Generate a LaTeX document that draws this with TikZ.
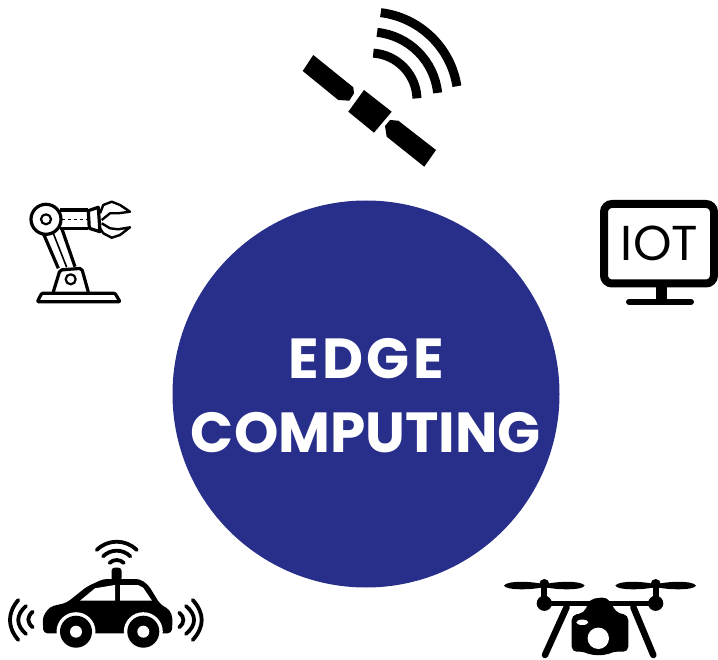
\documentclass[tikz,border=0pt]{standalone}
\usepackage{fontspec}
\setmainfont{Poppins}
\definecolor{edgeblue}{HTML}{282F8A}
\tikzset{
	iconline/.style={line width=3.2pt, draw=black, line join=round},
	wave/.style={line width=3.8pt, draw=black, line cap=round},
	beam/.style={line width=9pt, draw=black},
}
\begin{document}
\begin{tikzpicture}[x=1pt, y=-1pt]
	\useasboundingbox (0,0) rectangle (718,660);

	\node[circle, fill=edgeblue, minimum size=387pt, inner sep=0pt] (edge) at (366,394) {};
	\node[text=white, align=center, font=\fontsize{56.5}{74}\bfseries\selectfont] (edgelabel) at (366,396) {{\addfontfeature{LetterSpace=6}EDGE}\\COMPUTING};

	% satellite
	\fill (313.3,55) -- (353.3,87.3) -- (354,93.3) -- (349.3,100.7) -- (338.3,100) -- (302.7,71) -- cycle;
	\fill (364,90) -- (391.7,111.7) -- (374,132.7) -- (348.3,111.7) -- cycle;
	\fill (385,126) -- (390,120) -- (398.3,120.7) -- (436,150) -- (424.3,166.7) -- (386.7,136.7) -- cycle;
	\draw[beam] (370,100) ++(86:47pt) arc[start angle=86, end angle=2, radius=47pt];
	\draw[beam] (370,100) ++(84:68pt) arc[start angle=84, end angle=6, radius=68pt];
	\draw[beam] (370,100) ++(83:88pt) arc[start angle=83, end angle=9, radius=88pt];

	% robot arm
	\draw[iconline] (43.3,233.3) -- (58.3,268.3) (61.7,228.3) -- (75,266.7);
	\draw[line width=1.6pt] (53.3,233.3) -- (66.7,267.3);
	\draw[iconline] (60,210) -- (88.3,210) (60,228.3) -- (88.3,228.3);
	\draw[line width=1.4pt, dashed] (61.7,219.3) -- (86.7,219.3);
	\draw[iconline, fill=white] (46,219.3) circle[radius=15pt];
	\draw[iconline, line width=2.2pt] (46,219.3) circle[radius=5pt];
	\draw[iconline] (88.3,210.7) -- (98.3,207.3) -- (100,231.7) -- (89.3,228.3) -- cycle;
	\draw[iconline, line width=2.4pt] (100,213.3) -- (103.3,205) -- (111.7,201.7) -- (120,205) -- (130,211.7) -- (118.3,213.3) -- (110,213.3) -- (101.7,220);
	\draw[iconline, line width=2.4pt] (101.7,223.3) -- (110,228.3) -- (118.3,229.3) -- (130,227.3) -- (120,235) -- (111.7,237.7) -- (103.3,233.3) -- (100,228.3);
	\draw[iconline, rounded corners=2pt] (53.3,292) -- (60,270) -- (81.7,268.3) -- (88.3,292);
	\draw[iconline, line width=2.2pt] (70.7,279.3) circle[radius=5pt];
	\draw[iconline, rounded corners=1pt] (37.3,301.7) -- (41.7,293.3) -- (115,293.3) -- (120,301.7) -- cycle;

	% monitor
	\draw[line width=8pt, rounded corners=8pt] (604,204) rectangle (714,283.5);
	\fill (656,287) rectangle (667,302);
	\draw[line width=6pt, line cap=round] (629,301.7) -- (691,301.7);
	\node[font=\fontsize{49}{49}\selectfont] (iot) at (659.5,243) {IOT};

	% car
	\fill[rounded corners=4pt] (43.3,633.3) -- (42.7,616.7) -- (50,606.7) -- (66.7,602.7) -- (86.7,586.7) -- (103.3,579) -- (140,579) -- (148.3,585) -- (160,604) -- (170,610) -- (172.7,618.3) -- (171.7,633.3) -- cycle;
	\fill[white] (80,600.7) -- (95,588.3) -- (115,585) -- (115,600.7) -- cycle;
	\fill[white] (120,585) -- (138,585) -- (143,587.5) -- (152,600.7) -- (120,600.7) -- cycle;
	\fill[rounded corners=3pt] (111.5,581) -- (111.5,567.7) -- (121.5,567.7) -- (121.5,581) -- cycle;
	\foreach \wx in {76,143.3} {
		\fill[white] (\wx,631.7) circle[radius=19.5pt];
		\fill (\wx,631.7) circle[radius=16pt];
		\fill[white] (\wx,631.7) circle[radius=6pt];
	}
	\foreach \wr in {10,19.3,28.3} {
		\draw[wave] (116.7,570) ++(45:\wr pt) arc[start angle=45, end angle=135, radius=\wr pt];
	}
	\draw[wave] (18.3,600) .. controls (7.2,613) and (7.2,627) .. (18.3,640);
	\draw[wave] (26,606) .. controls (15.7,615) and (15.7,625) .. (26,634);
	\draw[wave] (32.7,611.7) .. controls (26.8,617) and (26.8,622) .. (32.7,627.3);
	\draw[wave] (192.7,600) .. controls (204.7,613) and (204.7,627) .. (192.7,640);
	\draw[wave] (186,606) .. controls (196.7,615) and (196.7,625) .. (186,634);
	\draw[wave] (179.3,612.7) .. controls (184.7,617) and (184.7,623) .. (179.3,627.3);

	% drone
	\foreach \px in {544.3,655.7} {
		\fill (\px-40.3,585.7) .. controls (\px-38,580.5) and (\px-12,581) .. (\px,584.5) .. controls (\px+12,581) and (\px+38,580.5) .. (\px+40.3,585.7) .. controls (\px+38,590.5) and (\px+12,590) .. (\px,587) .. controls (\px-12,590) and (\px-38,590.5) .. (\px-40.3,585.7) -- cycle;
		\fill (\px,584) circle[radius=5pt];
		\fill (\px-3,584) rectangle (\px+3,603);
		\fill (\px,603.3) circle[radius=7.6pt];
	}
	\draw[line width=5pt] (544.3,603.3) -- (655.7,603.3);
	\draw[line width=6.5pt, line cap=round] (566.7,607) -- (545,655);
	\draw[line width=6.5pt, line cap=round] (633.3,607) -- (653.3,655);
	\fill[rounded corners=5pt] (571.7,651.7) -- (571.7,615) -- (584,613) -- (590,599) -- (607,597) -- (617,613) -- (628.3,615) -- (628.3,651.7) -- (612,651.7) -- (607,655) -- (590,655) -- (585,651.7) -- cycle;
	\fill[white] (598.3,638.3) circle[radius=10.7pt];
	\fill[white] (582.3,622.3) ellipse[x radius=6pt, y radius=2.7pt];
\end{tikzpicture}
\end{document}
